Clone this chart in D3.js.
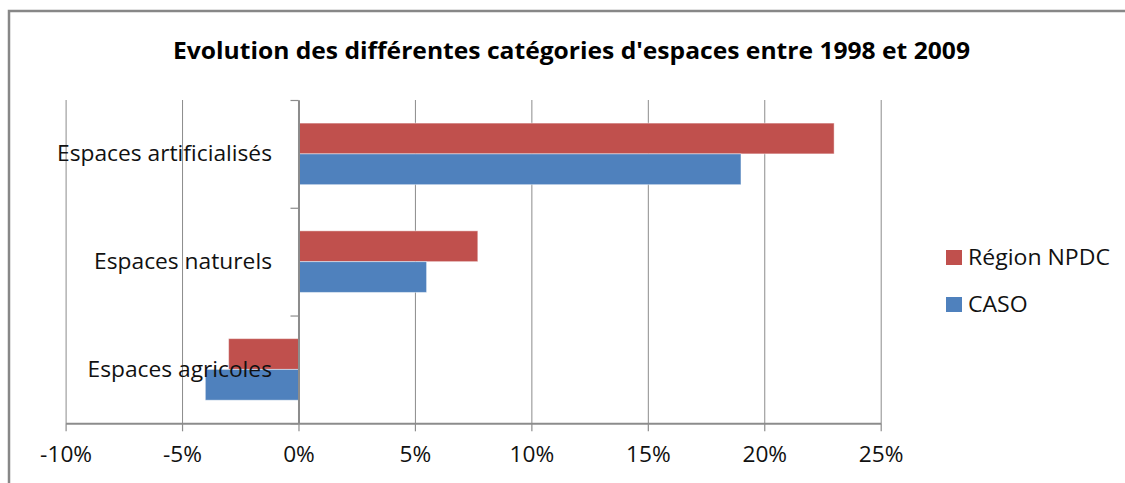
<!DOCTYPE html>
<html>
<head>
<meta charset="utf-8">
<script src="https://cdn.jsdelivr.net/npm/d3@7.9.0/dist/d3.min.js"></script>
<style>
  body { margin: 0; background: #fff; }
  svg { display: block; font-family: 'Open Sans', sans-serif; }
</style>
</head>
<body>
<div id="chart"></div>
<script>
const title = "Evolution des différentes catégories d'espaces entre 1998 et 2009";
const categories = ['Espaces artificialisés', 'Espaces naturels', 'Espaces agricoles'];
const seriesNames = ['Région NPDC', 'CASO'];
const regionNPDC = [0.23, 0.077, -0.03];
const caso = [0.19, 0.055, -0.04];
const xTicks = [-0.10, -0.05, 0, 0.05, 0.10, 0.15, 0.20, 0.25];

const colors = { 'Région NPDC': '#C0504D', 'CASO': '#4F81BD' };

const width = 1125;
const height = 483;

const plot = { left: 65.6, right: 880.7, top: 100, bottom: 423.3 };

const svg = d3.select('#chart')
  .append('svg')
  .attr('width', width)
  .attr('height', height);

svg.append('rect').attr('width', width).attr('height', height).attr('fill', '#fff');

// outer chart border (only top and left visible)
svg.append('path')
  .attr('d', `M9,${height} L9,11 L${width},11`)
  .attr('fill', 'none')
  .attr('stroke', '#878787')
  .attr('stroke-width', 2.5);

// squeeze texts horizontally (Calibri is narrower than Open Sans)
function squeeze(sel, ratio) {
  sel.each(function () {
    const w = this.getComputedTextLength();
    this.setAttribute('textLength', (w * ratio).toFixed(1));
    this.setAttribute('lengthAdjust', 'spacingAndGlyphs');
  });
}

function ratioFor(node, target) {
  return target / node.getComputedTextLength();
}

// SCALES

const x = d3.scaleLinear()
  .domain([-0.10, 0.25])
  .range([plot.left, plot.right]);

const y = d3.scaleBand()
  .domain(categories)
  .range([plot.top, plot.bottom])
  .padding(0);

const ySub = d3.scaleBand()
  .domain(seriesNames)
  .range([0, y.bandwidth()])
  .paddingInner(0)
  .paddingOuter(0.75);

const yIndex = d3.scaleLinear()
  .domain([0, categories.length])
  .range([plot.top, plot.bottom]);

// GRIDLINES

const grid = svg.append('g')
  .attr('transform', `translate(0,${plot.top})`)
  .call(d3.axisBottom(x)
    .tickValues(xTicks)
    .tickFormat('')
    .tickSize(plot.bottom - plot.top));
grid.select('.domain').remove();
grid.selectAll('line').attr('stroke', '#8c8c8c').attr('stroke-width', 1);

// BARS

const rows = categories.map((c, i) => ({
  category: c,
  values: [
    { series: 'Région NPDC', value: regionNPDC[i] },
    { series: 'CASO', value: caso[i] },
  ],
}));

svg.append('g')
  .selectAll('g')
  .data(rows)
  .join('g')
  .attr('transform', (d) => `translate(0,${y(d.category)})`)
  .selectAll('rect')
  .data((d) => d.values)
  .join('rect')
  .attr('x', (d) => x(Math.min(0, d.value)))
  .attr('width', (d) => Math.abs(x(d.value) - x(0)))
  .attr('y', (d) => ySub(d.series))
  .attr('height', ySub.bandwidth())
  .attr('fill', (d) => colors[d.series])
  .attr('stroke', 'rgba(255,255,255,0.45)')
  .attr('stroke-width', 1);

// AXES

const pct = (d) => String(Math.round(d * 100)) + '%';

const xAxis = svg.append('g')
  .attr('transform', `translate(0,${plot.bottom})`)
  .call(d3.axisBottom(x)
    .tickValues(xTicks)
    .tickFormat(pct)
    .tickSize(8)
    .tickSizeOuter(0));
xAxis.select('.domain').attr('stroke', '#8c8c8c').attr('stroke-width', 2);
xAxis.selectAll('line').attr('stroke', '#8c8c8c').attr('stroke-width', 1.2);
const tickTexts = xAxis.selectAll('text')
  .attr('font-family', 'Open Sans, sans-serif')
  .attr('font-size', 21)
  .attr('fill', '#111')
  .attr('y', 24)
  .attr('dy', '0.71em');
squeeze(tickTexts, 52 / tickTexts.filter((d) => d === -0.10).node().getComputedTextLength());

const yAxis = svg.append('g')
  .attr('transform', `translate(${x(0)},0)`)
  .call(d3.axisLeft(yIndex)
    .ticks(categories.length)
    .tickFormat('')
    .tickSize(8)
    .tickSizeOuter(0));
yAxis.select('.domain').attr('stroke', '#8c8c8c').attr('stroke-width', 2);
yAxis.selectAll('line').attr('stroke', '#8c8c8c').attr('stroke-width', 1.2);

// CATEGORY LABELS

const catLabels = svg.append('g')
  .selectAll('text')
  .data(categories)
  .join('text')
  .attr('x', 272)
  .attr('y', (d) => y(d) + y.bandwidth() / 2)
  .attr('dy', '0.35em')
  .attr('text-anchor', 'end')
  .attr('font-size', 21)
  .attr('fill', '#111')
  .text((d) => d);
squeeze(catLabels, ratioFor(catLabels.node(), 215));

// TITLE

const titleText = svg.append('text')
  .attr('x', 571.5)
  .attr('y', 59)
  .attr('text-anchor', 'middle')
  .attr('font-size', 24)
  .attr('font-weight', 'bold')
  .attr('fill', '#000')
  .text(title);
squeeze(titleText, ratioFor(titleText.node(), 797));

// LEGEND

const legend = svg.append('g')
  .attr('transform', 'translate(946,257.5)');

const items = legend.selectAll('g')
  .data(seriesNames)
  .join('g')
  .attr('transform', (d, i) => `translate(0,${i * 47})`);

items.append('rect')
  .attr('x', 0)
  .attr('y', -7.5)
  .attr('width', 16)
  .attr('height', 15)
  .attr('fill', (d) => colors[d]);

const legendTexts = items.append('text')
  .attr('x', 22)
  .attr('dy', '0.35em')
  .attr('font-size', 21)
  .attr('fill', '#111')
  .text((d) => d);
squeeze(legendTexts, ratioFor(legendTexts.node(), 142));
</script>
</body>
</html>
